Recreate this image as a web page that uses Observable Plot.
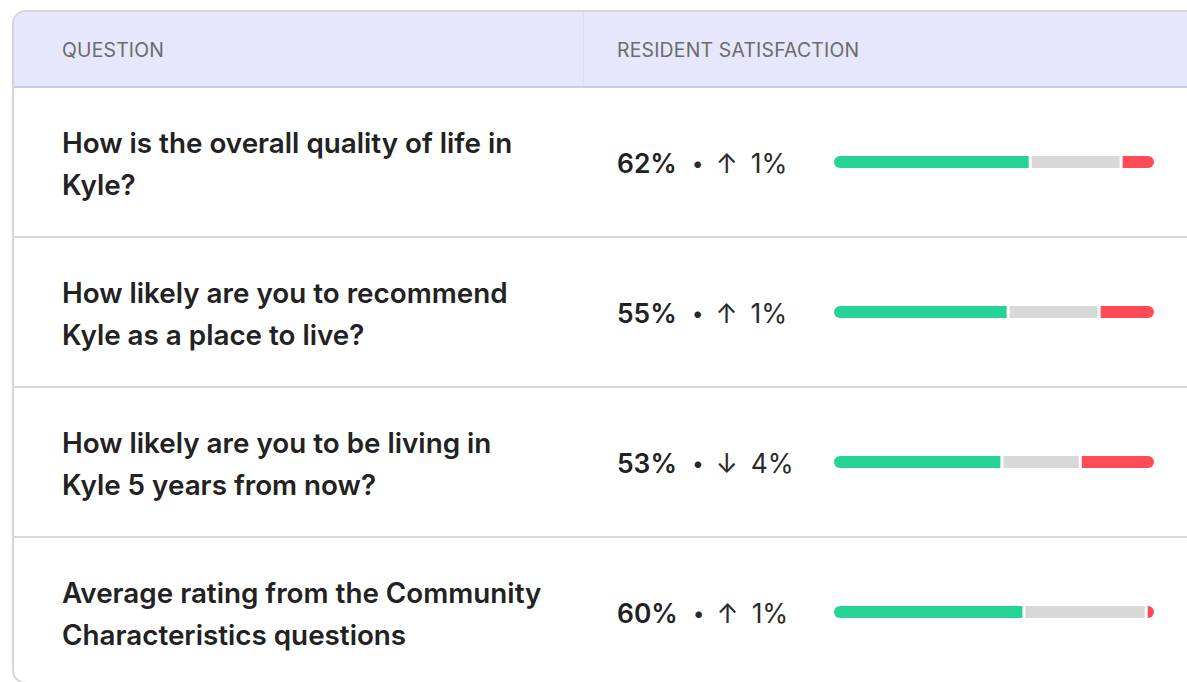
<!DOCTYPE html>
<html>
<head>
<meta charset="utf-8">
<script src="https://cdn.jsdelivr.net/npm/d3@7"></script>
<script src="https://cdn.jsdelivr.net/npm/@observablehq/plot@0.6"></script>
<style>
  html, body { margin: 0; padding: 0; background: #fff; width: 1187px; height: 682px; overflow: hidden; }
  body { font-family: Inter, "Noto Sans", sans-serif; color: #222; }
  #card { position: absolute; left: 12px; top: 10px; width: 1320px; height: 674px; box-sizing: border-box;
          border: 2px solid #d6d6d6; border-radius: 14px; overflow: hidden; background: #fff; }
  .head { display: flex; height: 76px; box-sizing: border-box; background: #e6e7fc; border-bottom: 2px solid #c7cbf7; }
  .head div { display: flex; align-items: center; font-size: 19.4px; color: #6b6b6b; letter-spacing: 0.2px; box-sizing: border-box; padding-top: 2px; }
  .head .c1 { width: 570px; padding-left: 48px; border-right: 1px solid #dcdef8; }
  .head .c2 { padding-left: 33px; }
  .row { display: flex; height: 150px; box-sizing: border-box; border-bottom: 2px solid #d8d8d8; }
  .row .c1 { width: 570px; box-sizing: border-box; padding-left: 48px; display: flex; align-items: center;
             font-size: 27.8px; font-weight: 600; line-height: 42px; color: #222; padding-top: 3px; }
  .row .c2 { position: relative; flex: 1; padding-left: 33px; display: flex; align-items: center; font-size: 26.4px; color: #2a2a2a; padding-top: 2px; }
  .val { font-weight: 600; color: #222; }
  .dot { margin: 0 12px 0 15px; font-size: 21px; }
  .arrow { margin-right: 13px; }
  .bar { position: absolute; left: 240px; top: 50%; transform: translateY(-50%); }
  .bar svg { display: block; background: transparent !important; }
</style>
</head>
<body>
<div id="card"></div>
<script>
// ---- data ----
const headers = ["QUESTION", "RESIDENT SATISFACTION"];
const questionLines = [
  ["How is the overall quality of life in", "Kyle?"],
  ["How likely are you to recommend", "Kyle as a place to live?"],
  ["How likely are you to be living in", "Kyle 5 years from now?"],
  ["Average rating from the Community", "Characteristics questions"]
];
const satisfied    = [62, 55, 53, 60];
const neutral      = [28, 28, 24, 38];
const dissatisfied = [10, 17, 23, 2];
const change       = [1, 1, -4, 1];
const segmentKeys   = ["Satisfied", "Neutral", "Dissatisfied"];
const segmentColors = ["#25d395", "#d8d8d8", "#ff4b58"];

const card = d3.select("#card");
const head = card.append("div").attr("class", "head");
head.append("div").attr("class", "c1").text(headers[0]);
head.append("div").attr("class", "c2").text(headers[1]);

questionLines.forEach((lines, i) => {
  const row = card.append("div").attr("class", "row");
  const q = row.append("div").attr("class", "c1").append("div");
  lines.forEach((l, j) => { if (j) q.append("br"); q.append("span").text(l); });

  const c2 = row.append("div").attr("class", "c2");
  c2.append("span").attr("class", "val").text(satisfied[i] + "%");
  c2.append("span").attr("class", "dot").text("•");
  c2.append("span").attr("class", "arrow").text(change[i] >= 0 ? "↑" : "↓");
  c2.append("span").text(Math.abs(change[i]) + "%");

  // stacked segments (flex-like layout with small white gaps)
  const vals = [satisfied[i], neutral[i], dissatisfied[i]];
  let acc = 0;
  const segs = vals.map((v, j) => { const s = {key: segmentKeys[j], x1: acc, x2: acc + v}; acc += v; return s; });
  const gap = 3;
  const W = 340;
  const plot = Plot.plot({
    width: W, height: 20,
    marginLeft: 10, marginRight: 10, marginTop: 4, marginBottom: 4,
    x: {domain: [0, 100], range: [10, W - 10 - 2 * gap], axis: null},
    color: {domain: segmentKeys, range: segmentColors},
    marks: segs.map((s, j) => Plot.barX([s], {x1: "x1", x2: "x2", fill: "key", dx: j * gap}))
  });
  const xs = plot.scale("x");
  const left = xs.apply(0), right = xs.apply(100) + 2 * gap;
  const svg = d3.select(plot);
  const id = "barclip" + i;
  svg.append("defs").append("clipPath").attr("id", id)
     .append("rect").attr("x", left).attr("y", 4).attr("width", right - left).attr("height", 12).attr("rx", 6);
  const holder = svg.append("g").attr("clip-path", `url(#${id})`);
  svg.selectAll("g[aria-label='bar']").each(function() { holder.node().appendChild(this); });
  c2.append("div").attr("class", "bar").node().appendChild(plot);
});
</script>
</body>
</html>
